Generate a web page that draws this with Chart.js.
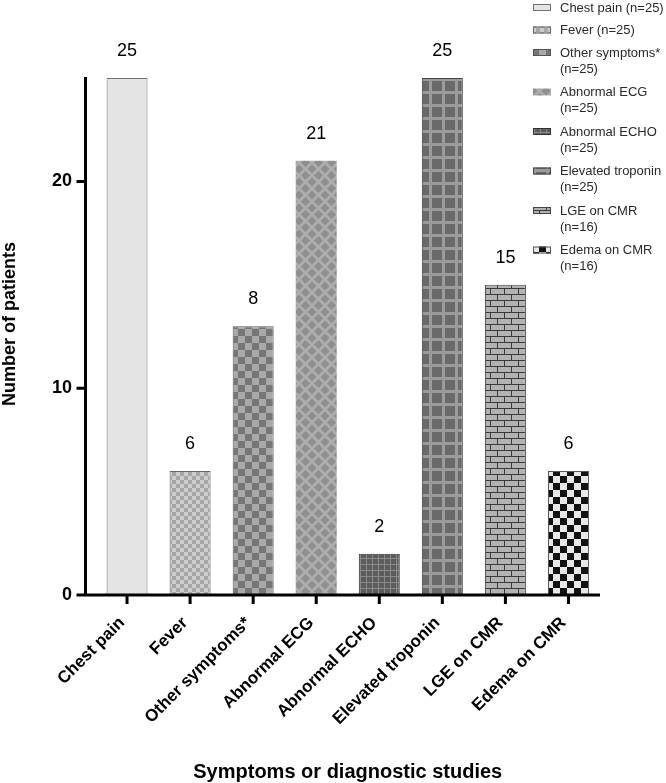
<!DOCTYPE html>
<html>
<head>
<meta charset="utf-8">
<title>Symptoms or diagnostic studies</title>
<script src="https://cdn.jsdelivr.net/npm/chart.js@4.4.1/dist/chart.umd.min.js"></script>
<style>
    html, body { margin: 0; padding: 0; background: #fff; }
    #wrap { width: 666px; height: 783px; }
</style>
</head>
<body>
<div id="wrap"><canvas id="chart" width="666" height="783"></canvas></div>
<script>
const categories = ['Chest pain', 'Fever', 'Other symptoms*', 'Abnormal ECG', 'Abnormal ECHO', 'Elevated troponin', 'LGE on CMR', 'Edema on CMR'];
const patientCounts = [25, 6, 13, 21, 2, 25, 15, 6];
// numbers printed above the bars (as in the figure, "Other symptoms*" reads 8)
const valueLabels = ['25', '6', '8', '21', '2', '25', '15', '6'];
const legendLabels = ['Chest pain (n=25)', 'Fever (n=25)', 'Other symptoms* (n=25)', 'Abnormal ECG (n=25)', 'Abnormal ECHO (n=25)', 'Elevated troponin (n=25)', 'LGE on CMR (n=16)', 'Edema on CMR (n=16)'];
const yTicks = [0, 10, 20];
const yTitle = 'Number of patients';
const xTitle = 'Symptoms or diagnostic studies';

const FONT = 'Arial, "Liberation Sans", Helvetica, sans-serif';

function tile(w, h, paint) {
    const c = document.createElement('canvas');
    c.width = w;
    c.height = h;
    paint(c.getContext('2d'), w, h);
    return c.getContext('2d').createPattern(c, 'repeat');
}

function checker(cell, a, b) {
    return tile(cell * 2, cell * 2, (g) => {
        g.fillStyle = a;
        g.fillRect(0, 0, cell * 2, cell * 2);
        g.fillStyle = b;
        g.fillRect(0, 0, cell, cell);
        g.fillRect(cell, cell, cell, cell);
    });
}

const fills = [
    '#e4e4e4',
    checker(4, '#a6a6a6', '#cdcdcd'),
    checker(7, '#767676', '#a9a9a9'),
    tile(13, 13, (g) => {
        g.fillStyle = '#adadad';
        g.fillRect(0, 0, 13, 13);
        g.fillStyle = '#8f8f8f';
        [[6.5, 6.5], [0, 0], [13, 0], [0, 13], [13, 13]].forEach(([cx, cy]) => {
            g.beginPath();
            g.moveTo(cx, cy - 4.5);
            g.lineTo(cx + 4.5, cy);
            g.lineTo(cx, cy + 4.5);
            g.lineTo(cx - 4.5, cy);
            g.closePath();
            g.fill();
        });
    }),
    tile(6, 6, (g) => {
        g.fillStyle = '#5c5c5c';
        g.fillRect(0, 0, 6, 6);
        g.fillStyle = '#8a8a8a';
        g.fillRect(0, 0, 6, 1);
        g.fillRect(0, 0, 1, 6);
    }),
    tile(13, 13, (g) => {
        g.fillStyle = '#6a6a6a';
        g.fillRect(0, 0, 13, 13);
        g.fillStyle = '#9b9b9b';
        g.fillRect(0, 0, 13, 3);
        g.fillRect(0, 0, 3, 13);
    }),
    tile(14, 12, (g) => {
        g.fillStyle = '#b2b2b2';
        g.fillRect(0, 0, 14, 12);
        g.fillStyle = '#3a3a3a';
        g.fillRect(0, 0, 14, 1);
        g.fillRect(0, 6, 14, 1);
        g.fillRect(0, 0, 1, 6);
        g.fillRect(7, 6, 1, 6);
    }),
    checker(7, '#e8e8e8', '#111111'),
];
const edges = ['#707070', '#666666', '#555555', '#adadad', '#333333', '#444444', '#444444', '#555555'];
const edgeWidths = [1, 1, 1, 0, 1, 1, 1, 1];

function wrapText(ctx, text, maxWidth) {
    const words = text.split(' ');
    const lines = [];
    let line = '';
    words.forEach((w) => {
        const next = line ? line + ' ' + w : w;
        if (line && ctx.measureText(next).width > maxWidth) {
            lines.push(line);
            line = w;
        } else {
            line = next;
        }
    });
    lines.push(line);
    return lines;
}

// GraphPad-style axes: the y axis stands a little left of the first bar slot.
const decorations = {
    id: 'decorations',
    afterDatasetsDraw(chart) {
        const { ctx, chartArea, scales: { x, y } } = chart;
        const axisX = chartArea.left - 10;
        const base = chartArea.bottom;

        ctx.save();
        ctx.strokeStyle = '#000';
        ctx.lineWidth = 3;
        ctx.beginPath();
        ctx.moveTo(axisX, y.top - 1);
        ctx.lineTo(axisX, base + 1.5);
        ctx.moveTo(axisX - 9, base);
        ctx.lineTo(chartArea.right, base);
        yTicks.forEach((v) => {
            const py = y.getPixelForValue(v);
            ctx.moveTo(axisX - 9, py);
            ctx.lineTo(axisX, py);
        });
        categories.forEach((c, i) => {
            const px = x.getPixelForValue(i);
            ctx.moveTo(px, base);
            ctx.lineTo(px, base + 9);
        });
        ctx.stroke();

        // numbers above the bars
        ctx.fillStyle = '#000';
        ctx.font = '18px ' + FONT;
        ctx.textAlign = 'center';
        ctx.textBaseline = 'middle';
        chart.getDatasetMeta(0).data.forEach((bar, i) => {
            ctx.fillText(valueLabels[i], bar.x, bar.y - 27);
        });

        // axis titles
        ctx.font = 'bold 20px ' + FONT;
        ctx.fillText(xTitle, (chartArea.left + chartArea.right) / 2, 772);
        ctx.save();
        ctx.translate(10, 324);
        ctx.rotate(-Math.PI / 2);
        ctx.font = 'bold 18px ' + FONT;
        ctx.fillText(yTitle, 0, 0);
        ctx.restore();

        // legend, top right
        ctx.font = '13px ' + FONT;
        ctx.textAlign = 'left';
        let cy = 8;
        legendLabels.forEach((label, i) => {
            const lines = wrapText(ctx, label, 104);
            ctx.fillStyle = fills[i];
            ctx.fillRect(533, cy - 4, 18, 7);
            if (edgeWidths[i]) {
                ctx.lineWidth = 1;
                ctx.strokeStyle = edges[i];
                ctx.strokeRect(533.5, cy - 3.5, 17, 6);
            }
            ctx.fillStyle = '#2a2a2a';
            lines.forEach((ln, k) => ctx.fillText(ln, 560, cy + k * 16));
            cy += 22.5 + 17 * (lines.length - 1);
        });
        ctx.restore();
    },
};

new Chart(document.getElementById('chart'), {
    type: 'bar',
    data: {
        labels: categories,
        datasets: [{
            data: patientCounts,
            backgroundColor: fills,
            borderColor: edges,
            borderWidth: edgeWidths,
            barPercentage: 0.65,
            categoryPercentage: 1,
        }],
    },
    options: {
        responsive: false,
        animation: false,
        devicePixelRatio: 1,
        layout: { padding: { top: 78, right: 66, left: 0, bottom: 0 } },
        plugins: {
            legend: { display: false },
            tooltip: { enabled: false },
        },
        scales: {
            x: {
                grid: { display: false, drawTicks: false },
                border: { display: false },
                ticks: {
                    autoSkip: false,
                    maxRotation: 45,
                    minRotation: 45,
                    padding: 18,
                    labelOffset: -5,
                    color: '#000',
                    font: { family: FONT, size: 17, weight: 'bold' },
                },
                afterFit: (s) => { s.height = 188; },
            },
            y: {
                min: 0,
                max: 25,
                grid: { display: false, drawTicks: false },
                border: { display: false },
                afterBuildTicks: (s) => { s.ticks = yTicks.map((v) => ({ value: v })); },
                ticks: {
                    padding: 23.5,
                    color: '#000',
                    font: { family: FONT, size: 18, weight: 'bold' },
                },
                afterFit: (s) => { s.width = 95.5; },
            },
        },
    },
    plugins: [decorations],
});
</script>
</body>
</html>
